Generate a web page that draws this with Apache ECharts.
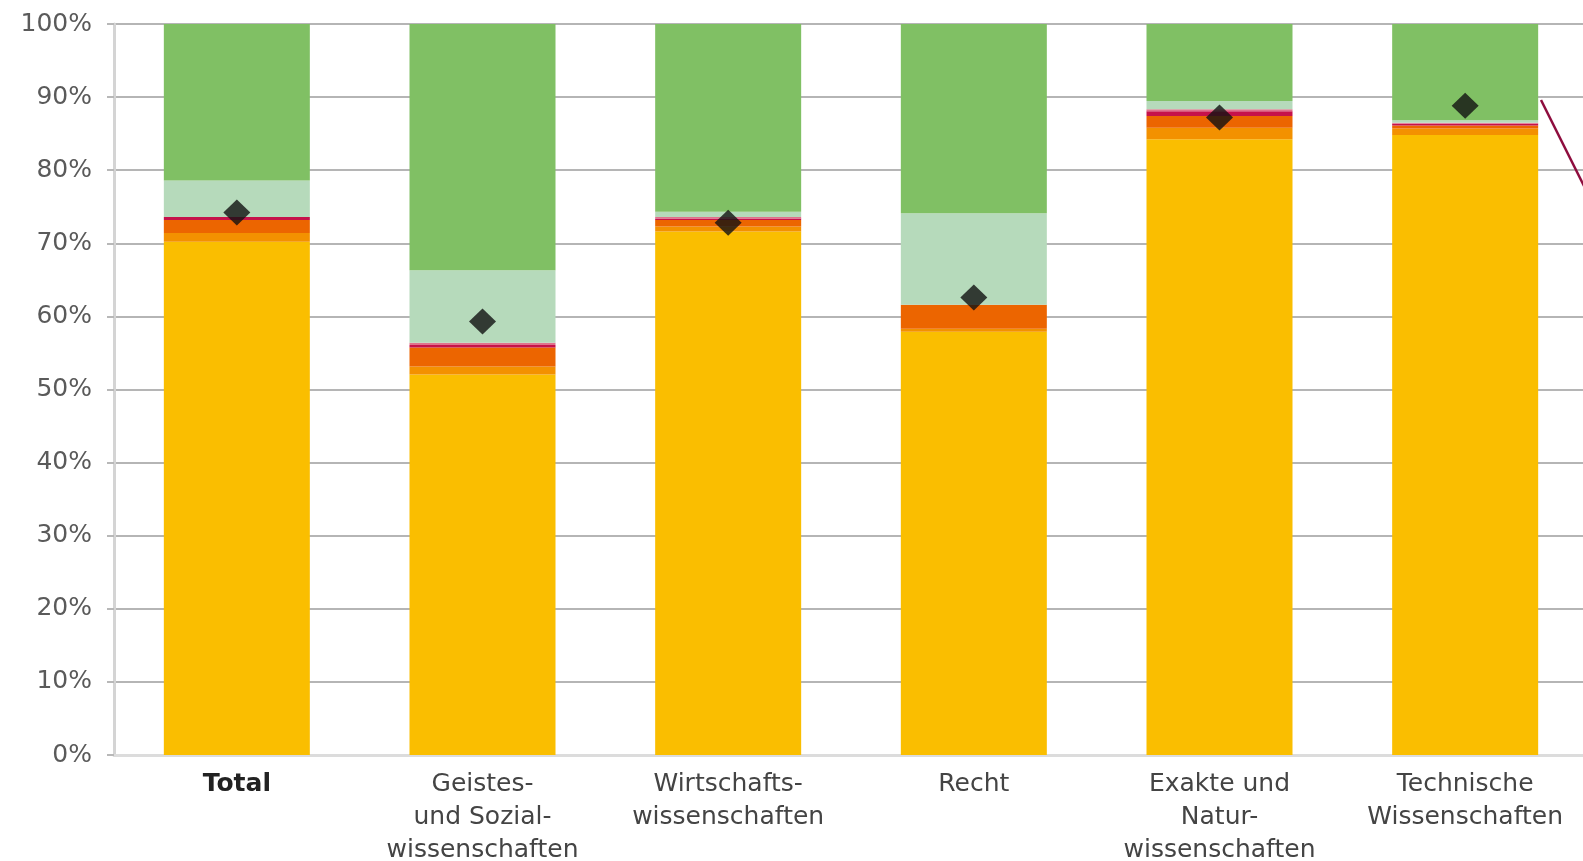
<!DOCTYPE html>
<html lang="de">
<head>
<meta charset="utf-8">
<title>Anteile nach Fachbereich</title>
<script src="https://cdn.jsdelivr.net/npm/echarts@6.0.0/dist/echarts.min.js"></script>
<style>
  html, body { margin: 0; padding: 0; background: #fff; overflow: hidden; }
  #chart { width: 1583px; height: 861px; }
</style>
</head>
<body>
<div id="chart"></div>
<script>
// Kategorien (x-Achse)
const categories = [
  "Total",
  "Geistes-\nund Sozial-\nwissenschaften",
  "Wirtschafts-\nwissenschaften",
  "Recht",
  "Exakte und\nNatur-\nwissenschaften",
  "Technische\nWissenschaften",
];

// Gestapelte Anteile in %, von unten nach oben
const gelb = [70.2, 52.05, 71.6, 57.9, 84.25, 84.8];
const hellorange = [1.2, 1.1, 0.7, 0.4, 1.55, 0.9];
const orange = [1.8, 2.6, 0.9, 3.3, 1.6, 0.4];
const rot = [0.4, 0.35, 0.2, 0, 0.65, 0.25];
const rosa = [0, 0.3, 0.2, 0, 0.3, 0.15];
const hellgruen = [5.0, 9.9, 0.7, 12.5, 1.1, 0.35];
const gruen = [21.4, 33.7, 25.7, 25.9, 10.55, 13.15];

// Rauten
const rauten = [74.2, 59.3, 72.8, 62.6, 87.2, 88.8];

const yTicks = [0, 10, 20, 30, 40, 50, 60, 70, 80, 90, 100];

const stackSeries = [
  { name: "gelb", data: gelb, color: "#FABE00" },
  { name: "hellorange", data: hellorange, color: "#F39100" },
  { name: "orange", data: orange, color: "#EC6500" },
  { name: "rot", data: rot, color: "#C6124A" },
  { name: "rosa", data: rosa, color: "#E0728C" },
  { name: "hellgruen", data: hellgruen, color: "#B6DABB" },
  { name: "gruen", data: gruen, color: "#80C064" },
];

const labelFont = {
  fontFamily: "DejaVu Sans",
  fontSize: 25,
  lineHeight: 33,
  color: "#444",
};

const chart = echarts.init(document.getElementById("chart"), null, { renderer: "canvas" });

chart.setOption({
  animation: false,
  grid: {
    left: 114,
    right: -5,
    top: 24,
    bottom: 106,
    containLabel: false,
    outerBoundsMode: "none", // Labels dürfen unten/rechts abgeschnitten werden
  },
  xAxis: {
    type: "category",
    data: categories,
    axisTick: { show: false },
    axisLine: { lineStyle: { color: "#dcdcdc", width: 3 } },
    axisLabel: {
      interval: 0,
      margin: 13,
      ...labelFont,
      formatter: (v) => (v === "Total" ? "{b|" + v + "}" : v),
      rich: {
        b: { ...labelFont, fontWeight: "bold", color: "#222" },
      },
    },
  },
  yAxis: {
    type: "value",
    min: yTicks[0],
    max: yTicks[yTicks.length - 1],
    interval: 10,
    axisLine: { show: true, lineStyle: { color: "#d4d4d4", width: 3 } },
    axisTick: { show: true, length: 7, lineStyle: { color: "#b8b8b8", width: 2 } },
    splitLine: { lineStyle: { color: "#b5b5b5", width: 2 } },
    axisLabel: {
      margin: 22,
      fontFamily: "DejaVu Sans",
      fontSize: 25,
      color: "#5a5a5a",
      formatter: (v) => v + "%",
    },
  },
  series: [
    ...stackSeries.map((s) => ({
      name: s.name,
      type: "bar",
      stack: "anteil",
      barWidth: 146,
      data: s.data,
      itemStyle: { color: s.color },
    })),
    {
      name: "raute",
      type: "scatter",
      symbol: "diamond",
      symbolSize: [27, 26],
      data: rauten,
      itemStyle: { color: "#111" },
      z: 5,
    },
  ],
  // Hinweislinie rechts (läuft aus dem Bild)
  graphic: [
    {
      type: "line",
      shape: { x1: 1541, y1: 100, x2: 1586, y2: 190 },
      style: { stroke: "#8E0D3E", lineWidth: 2.5 },
      z: 10,
    },
  ],
});
</script>
</body>
</html>
